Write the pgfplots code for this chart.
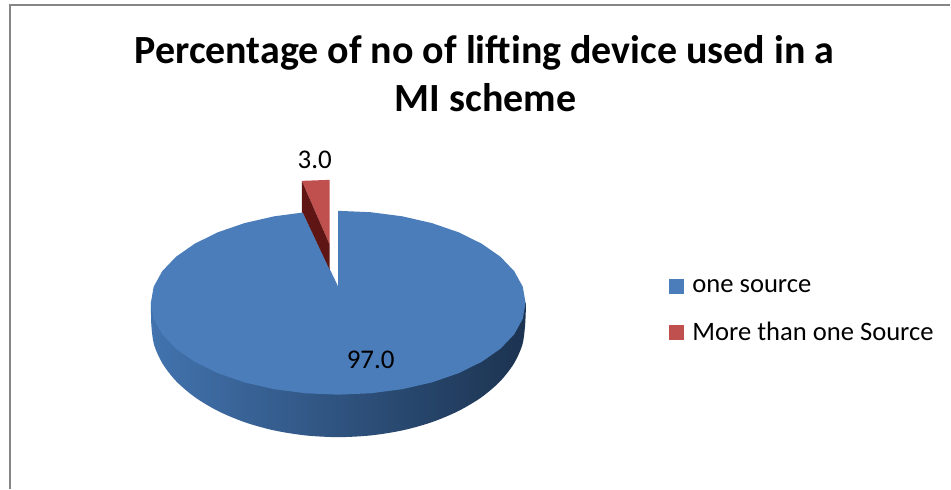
\documentclass[border=0pt]{standalone}
\usepackage{pgfplots}
\pgfplotsset{compat=1.18}
\usepackage{fontspec}
\setmainfont{Carlito}
\definecolor{blueTop}{HTML}{4A7DBA}
\definecolor{redTop}{HTML}{C0504D}
\definecolor{redDark}{HTML}{5E1513}
\definecolor{sideL}{HTML}{4273AE}
\definecolor{sideM}{HTML}{2B5280}
\definecolor{sideR}{HTML}{1C3350}
\definecolor{frameGray}{HTML}{868686}
\begin{document}
\begin{tikzpicture}
\begin{axis}[
  scale only axis, width=951pt, height=489pt,
  xmin=0, xmax=951, ymin=0, ymax=489, y dir=reverse,
  hide axis, clip=false,
  legend style={at={(axis cs:670,278)},anchor=north west,draw=none,fill=none,
    font=\fontsize{26.6}{30}\selectfont,row sep=24pt,inner sep=0pt,outer sep=0pt},
  legend cell align=left,
  legend image code/.code={\fill[#1,draw=none] (0pt,-7.5pt) rectangle (15pt,7.5pt);\path (21pt,0pt);},
]
% page extent
\addplot[draw=none,forget plot] coordinates {(0,0) (951,489)};
% frame
\addplot[frameGray,line width=1.6pt,forget plot] coordinates {(10,489) (10,5) (951,5)};
% side of pie
\addplot[draw=none,forget plot,smooth,tension=0.5,left color=sideL,middle color=sideM,right color=sideR] coordinates {
(526.5,303) (525.5,326) (522.7,345.4) (514.2,364.1) (500.4,381.8) (481.7,397.7) (458.7,411.4) (432,422.6) (402.5,430.8) (371,435.8) (338.5,437.5)
(306,435.8) (274.5,430.8) (245,422.6) (218.3,411.4) (195.3,397.7) (176.6,381.8) (162.8,364.1) (154.3,345.4) (151.5,326) (151,303)} -- cycle;
% blue top face
\addplot[draw=none,fill=blueTop] coordinates {
(338.5,211) (371.1,212.4) (402.6,216.5) (432.3,223.3) (459,232.5) (482.1,243.9) (500.9,257) (514.7,271.5) (523.2,287) (526,303)
(523.2,319) (514.7,334.5) (500.9,349) (482.1,362.1) (459,373.5) (432.3,382.7) (402.6,389.5) (371.1,393.6) (338.5,395)
(305.9,393.6) (274.4,389.5) (244.7,382.7) (218,373.5) (194.9,362.1) (176.1,349) (162.3,334.5) (153.8,319) (151,303)
(153.8,287) (162.3,271.5) (176.1,257) (194.9,243.9) (218,232.5) (244.7,223.3) (274.4,216.5) (303,212.7) (338.5,287)} -- cycle;
\addlegendentry{one source}
% red slice
\addplot[draw=none,fill=redTop] coordinates {(302,181) (330,180) (330,245)} -- cycle;
\addlegendentry{More than one Source}
\addplot[draw=none,fill=redDark,forget plot] coordinates {(302,181) (330,245) (330,270) (303,212.7) (302,212.7)} -- cycle;
% texts
\node[font=\fontsize{40}{44}\selectfont\bfseries,anchor=base] at (axis cs:485,64) {Percentage of no of lifting device used in a};
\node[font=\fontsize{40}{44}\selectfont\bfseries,anchor=base] at (axis cs:486,112) {MI scheme};
\node[font=\fontsize{27}{30}\selectfont,anchor=base] at (axis cs:315,169) {3.0};
\node[font=\fontsize{27}{30}\selectfont,anchor=base] at (axis cs:371,369) {97.0};
\end{axis}
\end{tikzpicture}
\end{document}
